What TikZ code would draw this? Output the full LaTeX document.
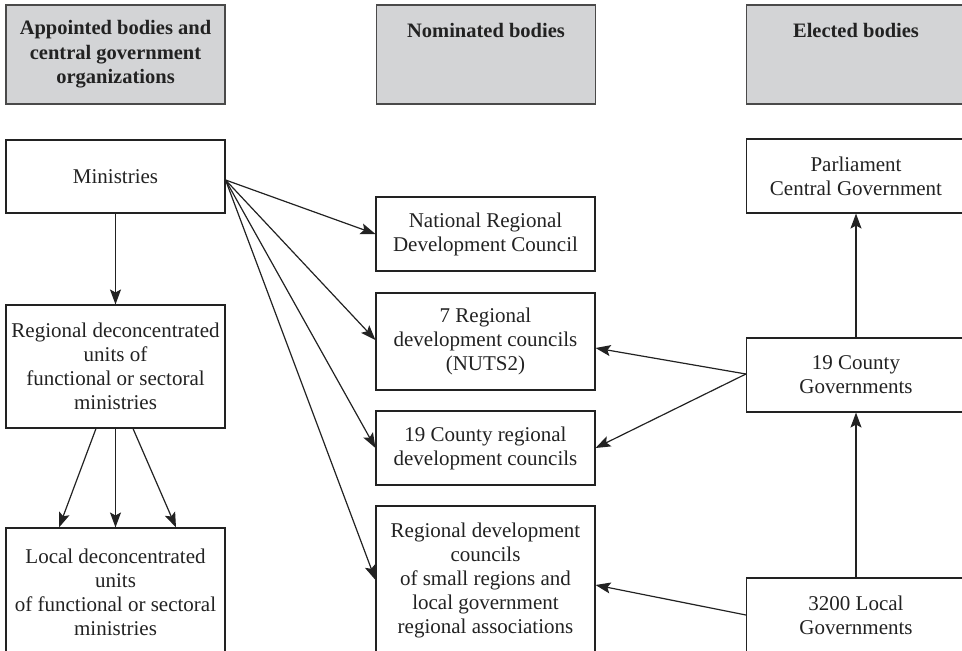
\documentclass[tikz,border=0pt]{standalone}
\usepackage{fontspec}
\setmainfont{Liberation Serif}
\usetikzlibrary{arrows.meta,calc}
\definecolor{hdrfill}{HTML}{D3D4D6}
\definecolor{hdrline}{HTML}{4A4A4A}
\definecolor{ink}{HTML}{222222}
\begin{document}
\begin{tikzpicture}[x=1pt,y=-1pt,
  font=\fontsize{21}{24}\selectfont,
  box/.style={draw=ink,line width=1.1pt,fill=white,align=center,inner sep=2pt,text=ink,minimum width=219pt},
  hdr/.style={draw=hdrline,line width=1.3pt,fill=hdrfill,align=center,inner sep=2pt,text=ink,minimum width=219pt,minimum height=99pt,font=\fontsize{20.5}{24.5}\selectfont\bfseries},
  arr/.style={draw=ink,line width=1.2pt,-{Stealth[length=15pt,width=11pt,inset=3pt]}}]
\useasboundingbox (0,0) rectangle (962,651);
% headers
\node[hdr] (h1) at (115.5,54.5) {Appointed bodies and\\central government\\organizations};
\node[hdr] (h2) at (486,54.5) {Nominated bodies\\~\\~};
\node[hdr] (h3) at (856,54.5) {Elected bodies\\~\\~};
% left column
\node[box,minimum height=73pt] (min) at (115.5,176.5) {Ministries};
\node[box,minimum height=123pt] (reg) at (115.5,366.5) {Regional deconcentrated\\units of\\functional or sectoral\\ministries};
\node[box,minimum height=128pt] (loc) at (115.5,592) {Local deconcentrated\\units\\of functional or sectoral\\ministries};
% middle column
\node[box,minimum height=74pt] (nrdc) at (485.5,234) {National Regional\\Development Council};
\node[box,minimum height=97pt] (r7) at (485.5,341.5) {7 Regional\\development councils\\(NUTS2)};
\node[box,minimum height=74pt] (c19) at (485.5,448) {19 County regional\\development councils};
\node[box,minimum height=148pt] (small) at (485.5,580) {Regional development\\councils\\of small regions and\\local government\\regional associations};
% right column
\node[box,minimum height=74pt] (parl) at (856,176) {Parliament\\Central Government};
\node[box,minimum height=74pt] (cg) at (856,375) {19 County\\Governments};
\node[box,minimum height=74pt] (lg) at (856,615) {3200 Local\\Governments};
% connectors
\coordinate (mo) at ($(min.east)+(0,3.5)$);
\draw[arr] (mo) -- (nrdc.west);
\draw[arr] (mo) -- ($(r7.west)+(0,-1.5)$);
\draw[arr] (mo) -- (c19.west);
\draw[arr] (mo) -- (small.west);
\draw[arr] (min.south) -- (reg.north);
\draw[arr] ($(reg.south)+(-19.5,0)$) -- ($(loc.north)+(-56.5,0)$);
\draw[arr] (reg.south) -- (loc.north);
\draw[arr] ($(reg.south)+(17.5,0)$) -- ($(loc.north)+(60.5,0)$);
\draw[arr] ($(cg.west)+(0,-1)$) -- ($(r7.east)+(0,6.5)$);
\draw[arr] ($(cg.west)+(0,-1)$) -- (c19.east);
\draw[arr] (lg.west) -- ($(small.east)+(0,5)$);
\draw[arr] (lg.north) -- (cg.south);
\draw[arr] (cg.north) -- (parl.south);
\end{tikzpicture}
\end{document}
